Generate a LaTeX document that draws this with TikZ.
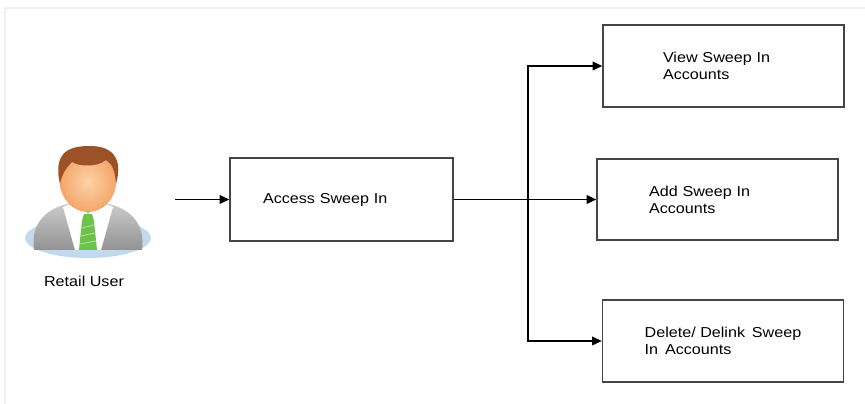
\documentclass[tikz,border=0pt]{standalone}
\usepackage{fontspec}
\setmainfont{Liberation Sans}[FakeStretch=1.12]
\usetikzlibrary{arrows.meta}
\definecolor{boxgray}{HTML}{454545}
\definecolor{framegray}{HTML}{EFEFEF}
\definecolor{skinorange}{HTML}{F4A66A}
\definecolor{skinlight}{HTML}{FCD3A8}
\definecolor{hairbrown}{HTML}{9C5226}
\definecolor{tiegreen}{HTML}{6CC24A}
\definecolor{baseblue}{HTML}{C3DAEE}
\begin{document}
\begin{tikzpicture}
  [x=0.02cm,y=-0.02cm,auto=left,
   every node/.style={font=\fontsize{8.2}{9.6}\selectfont},
   menubox/.style={draw=boxgray,line width=0.9pt,minimum width=4.82cm,minimum height=1.63cm,align=left},
   link/.style={line width=0.7pt,-{Triangle[length=5.5pt,width=5pt]}}]
\useasboundingbox (0,0) rectangle (865,404);
% frame
\draw [framegray,line width=1.2pt] (5,404) -- (5,8) -- (865,8);

% retail user icon
\fill [baseblue] (88,238) ellipse [x radius=63,y radius=20];
\shade [top color=gray!40,bottom color=gray!85] (34,250) .. controls (30,222) and (48,207) .. (72,203) -- (104,203) .. controls (128,207) and (146,222) .. (142,250) -- cycle;
\fill [skinorange!90!black] (76,192) -- (100,192) -- (100,210) -- (76,210) -- cycle;
\fill [white] (63,207) -- (75,202) -- (88,214) -- (101,202) -- (113,207) -- (101,250) -- (75,250) -- cycle;
\fill [tiegreen] (84,214) -- (92,214) -- (94,221) -- (97,250) -- (79,250) -- (82,221) -- cycle;
\draw [tiegreen!60!white,line width=0.6pt] (82,228) -- (94,225) (81,236) -- (95,233) (80,244) -- (96,241);
\shade [inner color=skinlight,outer color=skinorange] (88,182) ellipse [x radius=28,y radius=30];
\fill [hairbrown] (60,184) .. controls (52,150) and (72,146) .. (90,146) .. controls (110,146) and (124,156) .. (116,184) .. controls (115,170) and (112,164) .. (106,160) .. controls (96,168) and (78,166) .. (72,162) .. controls (66,168) and (62,174) .. (60,184) -- cycle;
\node (user) at (84,281) {Retail User};

% menu boxes
\node (acc)[menubox,minimum width=4.46cm,minimum height=1.66cm,inner xsep=0.66cm,text width=3.14cm] at (341.5,199.5) {Access Sweep In};
\node (view)[menubox,inner xsep=1.2cm,text width=2.42cm] at (723.5,66) {View Sweep In\\Accounts};
\node (add)[menubox,inner xsep=1.04cm,text width=2.74cm] at (717.5,199.5) {Add Sweep In\\Accounts};
\node (del)[menubox] at (723,341) {Delete/ Delink\, Sweep\\In\, Accounts};

\coordinate (start) at (175,199.5);
\coordinate (jn) at (528,199.5);

\path [link] (start) edge (acc);
\path [link] (acc) edge (add);
\draw [link] (jn) |- (view);
\draw [link] (jn) |- (del);
\end{tikzpicture}
\end{document}
